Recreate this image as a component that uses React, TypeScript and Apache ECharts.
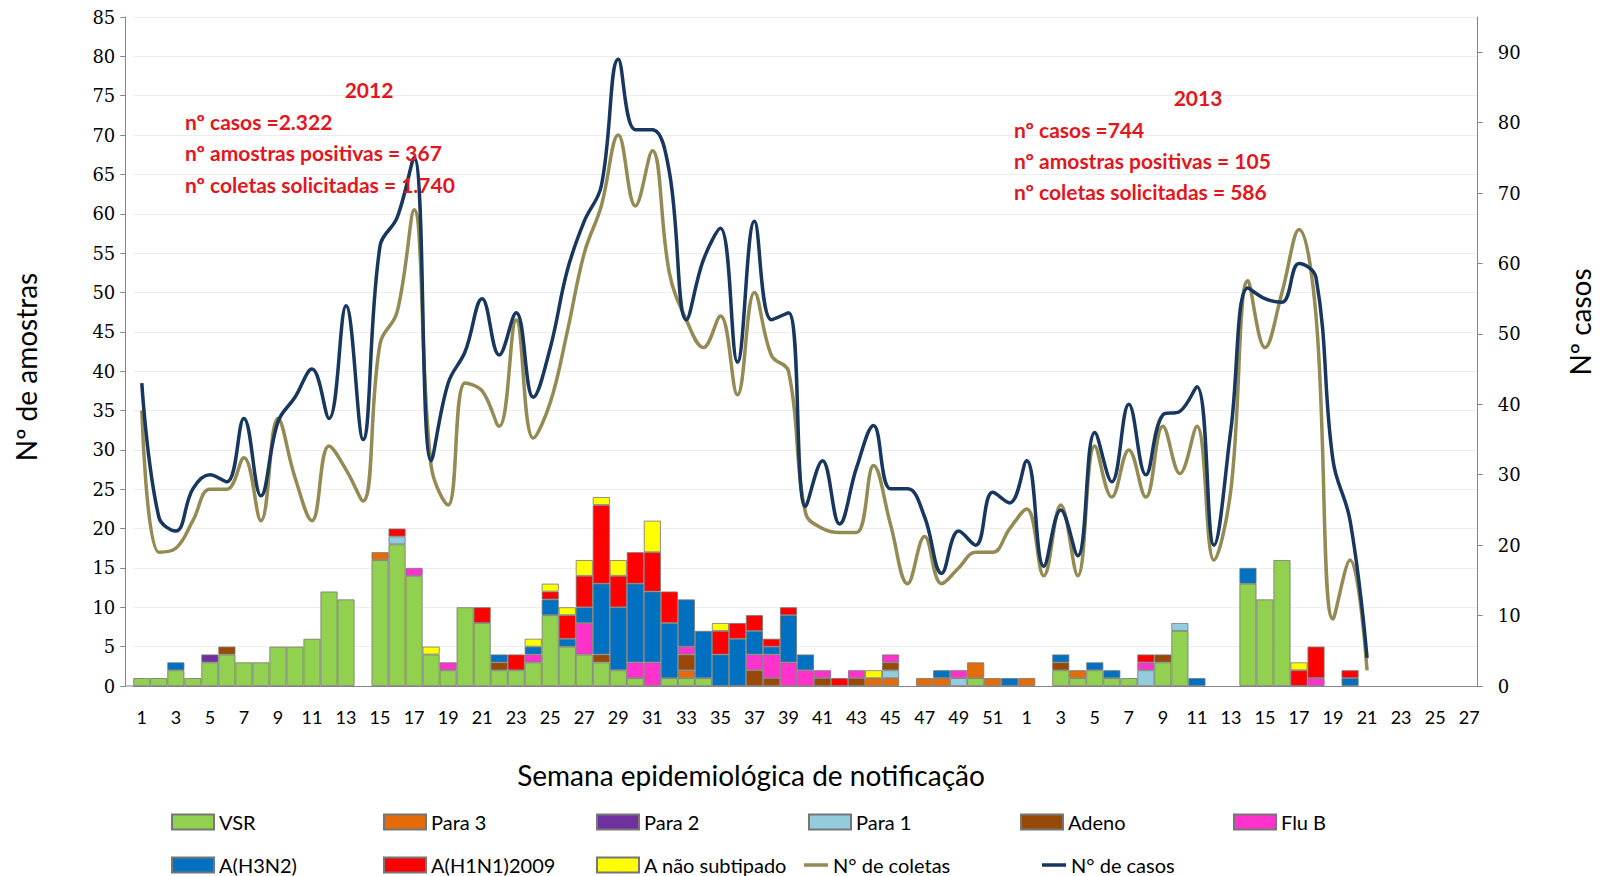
import React, { useEffect, useRef } from "react";
import * as echarts from "echarts";

// Week labels: 2012 weeks 1-52, then 2013 weeks 1-27
const weeks2012 = ["1","2","3","4","5","6","7","8","9","10","11","12","13","14","15","16","17","18","19","20","21","22","23","24","25","26","27","28","29","30","31","32","33","34","35","36","37","38","39","40","41","42","43","44","45","46","47","48","49","50","51","52"];
const weeks2013 = ["1","2","3","4","5","6","7","8","9","10","11","12","13","14","15","16","17","18","19","20","21","22","23","24","25","26","27"];
const categories = [...weeks2012, ...weeks2013];

// Stacked virus counts (left axis), per week
const vsr = [
  1,1,2,1,3,4,3,3,5,5,
  6,12,11,0,16,18,14,4,2,10,
  8,2,2,3,9,5,4,3,2,1,
  0,1,1,1,0,0,0,0,0,0,
  0,0,0,0,0,0,0,0,0,1,
  0,0,
  0,0,2,1,2,1,1,0,3,7,
  0,0,0,13,11,16,0,0,0,0,
  0,0,0,0,0,0,0];
const para3 = [
  0,0,0,0,0,0,0,0,0,0,
  0,0,0,0,1,0,0,0,0,0,
  0,0,0,0,0,0,0,0,0,0,
  0,0,1,0,0,0,0,0,0,0,
  0,0,0,1,1,0,1,1,0,2,
  1,0,
  1,0,0,1,0,0,0,0,0,0,
  0,0,0,0,0,0,0,0,0,0,
  0,0,0,0,0,0,0];
const para2 = [
  0,0,0,0,1,0,0,0,0,0,
  0,0,0,0,0,0,0,0,0,0,
  0,0,0,0,0,0,0,0,0,0,
  0,0,0,0,0,0,0,0,0,0,
  0,0,0,0,0,0,0,0,0,0,
  0,0,
  0,0,0,0,0,0,0,0,0,0,
  0,0,0,0,0,0,0,0,0,0,
  0,0,0,0,0,0,0];
const para1 = [
  0,0,0,0,0,0,0,0,0,0,
  0,0,0,0,0,1,0,0,0,0,
  0,0,0,0,0,0,0,0,0,0,
  0,0,0,0,0,0,0,0,0,0,
  0,0,0,0,1,0,0,0,1,0,
  0,0,
  0,0,0,0,0,0,0,2,0,1,
  0,0,0,0,0,0,0,0,0,0,
  0,0,0,0,0,0,0];
const adeno = [
  0,0,0,0,0,1,0,0,0,0,
  0,0,0,0,0,0,0,0,0,0,
  0,1,0,0,0,0,0,1,0,0,
  0,0,2,0,0,0,2,1,0,0,
  1,0,1,0,1,0,0,0,0,0,
  0,0,
  0,0,1,0,0,0,0,0,1,0,
  0,0,0,0,0,0,0,0,0,0,
  0,0,0,0,0,0,0];
const fluB = [
  0,0,0,0,0,0,0,0,0,0,
  0,0,0,0,0,0,1,0,1,0,
  0,0,0,1,0,0,4,0,0,2,
  3,0,1,0,0,0,2,3,3,2,
  1,0,1,0,1,0,0,0,1,0,
  0,0,
  0,0,0,0,0,0,0,1,0,0,
  0,0,0,0,0,0,0,1,0,0,
  0,0,0,0,0,0,0];
const h3n2 = [
  0,0,1,0,0,0,0,0,0,0,
  0,0,0,0,0,0,0,0,0,0,
  0,1,0,1,2,1,2,9,8,10,
  9,7,6,6,4,6,3,1,6,2,
  0,0,0,0,0,0,0,1,0,0,
  0,1,
  0,0,1,0,1,1,0,0,0,0,
  1,0,0,2,0,0,0,0,0,1,
  0,0,0,0,0,0,0];
const h1n1 = [
  0,0,0,0,0,0,0,0,0,0,
  0,0,0,0,0,1,0,0,0,0,
  2,0,2,0,1,3,4,10,4,4,
  5,4,0,0,3,2,2,1,1,0,
  0,1,0,0,0,0,0,0,0,0,
  0,0,
  0,0,0,0,0,0,0,1,0,0,
  0,0,0,0,0,0,2,4,0,1,
  0,0,0,0,0,0,0];
const aNaoSub = [
  0,0,0,0,0,0,0,0,0,0,
  0,0,0,0,0,0,0,1,0,0,
  0,0,0,1,1,1,2,1,2,0,
  4,0,0,0,1,0,0,0,0,0,
  0,0,0,1,0,0,0,0,0,0,
  0,0,
  0,0,0,0,0,0,0,0,0,0,
  0,0,0,0,0,0,1,0,0,0,
  0,0,0,0,0,0,0];

// N° de coletas (left axis), weeks with data only
const coletas = [
  35,17,17.5,21,25,25,29,21,34,26.5,
  21,30.5,27.5,23.5,43.5,47.5,60.5,28,23,38.5,
  37.5,33,46.5,31.5,36,45,55,61,70,61,
  68,52.5,46.5,43,47,37,50,42,40,22,
  20,19.5,19.5,28,20.5,13,19,13,15,17,
  17,20,
  22.5,14,23,14,30.5,24,30,24,33,27,
  33,16,25,51.5,43,50,58,47,8.5,16,
  2];
// N° de casos (right axis)
const casos = [
  43,24,22,28,30,29,38,27,37.5,41,
  45,38,54,35,62.5,66.5,75,32,43,47.5,
  55,47,53,41,48,59,66,71,89,79,
  79,73,52,60.5,65,46,66,52,53,25.5,
  32,23,31,37,28,28,24,16,22,20,
  27.5,26,
  32,17,25,18.5,36,29,40,30,38.5,39,
  42.5,20,36.5,56.5,55,54.5,60,58,32,23.5,
  4];

const barNames = ["VSR","Para 3","Para 2","Para 1","Adeno","Flu B","A(H3N2)","A(H1N1)2009","A não subtipado"];
const barColors = ["#92D050","#E36C09","#7030A0","#93CDDD","#984807","#FF33CC","#0070C0","#FF0000","#FFFF00"];
const barValues = [vsr, para3, para2, para1, adeno, fluB, h3n2, h1n1, aNaoSub];
const lineNames = ["N° de coletas","N° de casos"];
const lineColors = ["#948A54","#17375E"];

const leftTicks = { min: 0, max: 85, interval: 5 };
const rightTicks = { min: 0, max: 95, interval: 10 };

export default function App() {
  const ref = useRef<HTMLDivElement>(null);
  useEffect(() => {
    const chart = echarts.init(ref.current!, null, { renderer: "svg" });
    const labelFont = "Lato, 'Open Sans', sans-serif";
    const series: any[] = barValues.map((vals, i) => ({
      name: barNames[i],
      type: "bar",
      stack: "virus",
      barWidth: "100%",
      barCategoryGap: "0%",
      data: vals.map((v) => (v === 0 ? null : v)),
      itemStyle: { color: barColors[i], borderColor: "#767676", borderWidth: 0.8 },
      z: 2,
    }));
    series.push({
      name: lineNames[0], type: "line", yAxisIndex: 0, data: coletas, smooth: 0.4,
      symbol: "none", lineStyle: { color: lineColors[0], width: 3.5 }, itemStyle: { color: lineColors[0] }, z: 4,
    });
    series.push({
      name: lineNames[1], type: "line", yAxisIndex: 1, data: casos, smooth: 0.4,
      symbol: "none", lineStyle: { color: lineColors[1], width: 3.5 }, itemStyle: { color: lineColors[1] }, z: 5,
    });

    const legendPos = [
      { name: "VSR", left: 171, top: 812 },
      { name: "Para 3", left: 383, top: 812 },
      { name: "Para 2", left: 596, top: 812 },
      { name: "Para 1", left: 808, top: 812 },
      { name: "Adeno", left: 1020, top: 812 },
      { name: "Flu B", left: 1233, top: 812 },
      { name: "A(H3N2)", left: 171, top: 855 },
      { name: "A(H1N1)2009", left: 383, top: 855 },
      { name: "A não subtipado", left: 596, top: 855 },
    ];
    const legends: any[] = legendPos.map((p) => ({
      data: [p.name], left: p.left, top: p.top, icon: "rect", itemWidth: 42, itemHeight: 15,
      selectedMode: false, padding: 0,
      textStyle: { fontFamily: labelFont, fontSize: 20, color: "#000" },
    }));
    legends.push({
      data: [{ name: lineNames[0], icon: "rect" }], left: 804, top: 855, itemWidth: 24, itemHeight: 3.5,
      selectedMode: false, padding: 0,
      textStyle: { fontFamily: labelFont, fontSize: 20, color: "#000", padding: [0, 0, 0, 0] },
    });
    legends.push({
      data: [{ name: lineNames[1], icon: "rect" }], left: 1042, top: 855, itemWidth: 24, itemHeight: 3.5,
      selectedMode: false, padding: 0,
      textStyle: { fontFamily: labelFont, fontSize: 20, color: "#000" },
    });

    const red = "#E3161D";
    const annFont = "bold 21px Lato, 'Open Sans', sans-serif";
    const ann = (text: string, x: number, y: number, align = "left") => ({
      type: "text", x, y, z: 10,
      style: { text, fill: red, font: annFont, textAlign: align, textVerticalAlign: "middle" },
    });

    chart.setOption({
      animation: false,
      backgroundColor: "#fff",
      grid: { left: 133.3, right: 125.3, top: 17, bottom: 190 },
      legend: legends,
      xAxis: {
        type: "category",
        data: categories,
        boundaryGap: true,
        axisLine: { lineStyle: { color: "#868686", width: 1 } },
        axisTick: { interval: 0, length: 7, lineStyle: { color: "#868686" } },
        axisLabel: { interval: 1, fontFamily: labelFont, fontSize: 18, color: "#000", margin: 22 },
        splitLine: { show: false },
      },
      yAxis: [
        {
          type: "value", position: "left", offset: 8, ...leftTicks,
          axisLine: { show: true, lineStyle: { color: "#868686" } },
          axisTick: { show: true, length: 5, lineStyle: { color: "#868686" } },
          axisLabel: { fontFamily: "'DejaVu Serif', serif", fontSize: 18, color: "#000", margin: 10 },
          splitLine: { show: true, lineStyle: { color: "#EDEDED", width: 1 } },
        },
        {
          type: "value", position: "right", ...rightTicks,
          axisLine: { show: true, lineStyle: { color: "#868686" } },
          axisTick: { show: true, length: 5, lineStyle: { color: "#868686" } },
          axisLabel: { fontFamily: "'DejaVu Serif', serif", fontSize: 18, color: "#000", margin: 20, showMaxLabel: false },
          splitLine: { show: false },
        },
      ],
      graphic: [
        { type: "line", shape: { x1: 125, y1: 686, x2: 134, y2: 686 }, style: { stroke: "#868686", lineWidth: 1 } },
        {
          type: "text", x: 26, y: 367, rotation: Math.PI / 2,
          style: { text: "Nº de amostras", fill: "#000", font: "28px Lato, sans-serif", textAlign: "center", textVerticalAlign: "middle" },
        },
        {
          type: "text", x: 1580, y: 322, rotation: Math.PI / 2,
          style: { text: "Nº casos", fill: "#000", font: "28px Lato, sans-serif", textAlign: "center", textVerticalAlign: "middle" },
        },
        {
          type: "text", x: 751, y: 775,
          style: { text: "Semana epidemiológica de notificação", fill: "#000", font: "28px Lato, sans-serif", textAlign: "center", textVerticalAlign: "middle" },
        },
        ann("2012", 369, 89, "center"),
        ann("nº casos =2.322", 185, 121),
        ann("nº amostras positivas = 367", 185, 152),
        ann("nº coletas solicitadas = 1.740", 185, 184),
        ann("2013", 1198, 97, "center"),
        ann("nº casos =744", 1014, 129),
        ann("nº amostras positivas = 105", 1014, 160),
        ann("nº coletas solicitadas = 586", 1014, 191),
      ],
      series,
    });
    return () => chart.dispose();
  }, []);
  return (
    <div
      ref={ref}
      style={{ position: "fixed", left: 0, top: 0, width: 1603, height: 876, background: "#fff" }}
    />
  );
}
